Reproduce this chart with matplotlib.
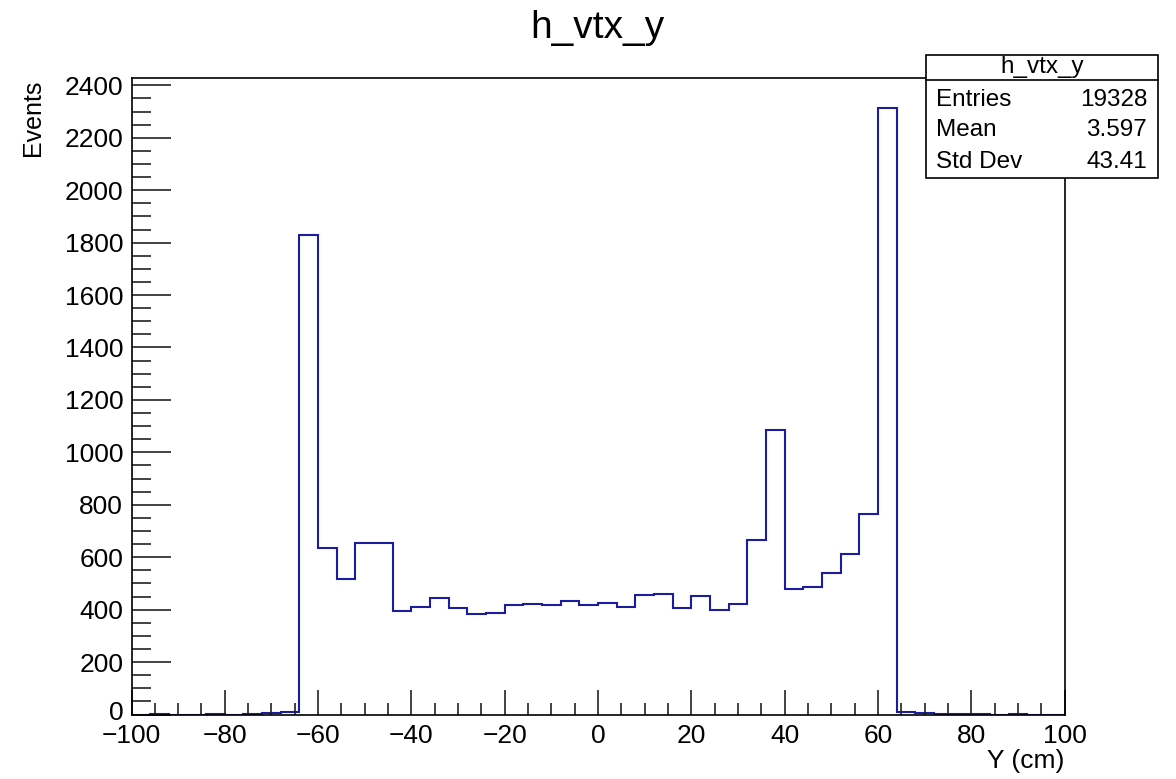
import numpy as np
import matplotlib
matplotlib.use("Agg")
import matplotlib.pyplot as plt
from matplotlib.ticker import MultipleLocator
from matplotlib.patches import Rectangle
from matplotlib.lines import Line2D
import matplotlib.transforms as mtransforms

plt.rcParams['font.family'] = ['Liberation Sans', 'DejaVu Sans']

# ---- data ----
bin_low, bin_high, n_bins = -100, 100, 50
counts = [0, 1, 0, 0, 2, 0, 1, 7, 8,
          1831, 635, 517, 656, 656, 396, 411, 443, 406, 385, 389,
          418, 421, 419, 434, 418, 425, 411, 457, 461, 408, 452,
          399, 421, 667, 1087, 477, 487, 540, 614, 765, 2313,
          8, 4, 1, 2, 1, 0, 2, 0, 0]
title = "h_vtx_y"
xlabel = "Y (cm)"
ylabel = "Events"
stat_names = ["Entries", "Mean", "Std Dev"]
stat_values = ["19328", "3.597", "43.41"]

W, H = 1176, 779
fig = plt.figure(figsize=(W / 100, H / 100), dpi=100)
L, R, T, B = 131.5, 1064.5, 78, 714.5
ax = fig.add_axes([L / W, 1 - B / H, (R - L) / W, (B - T) / H])

edges = np.linspace(bin_low, bin_high, n_bins + 1)
ax.stairs(counts, edges, color='#1c1ca0', linewidth=1.5)

ax.set_xlim(-100, 100)
ax.set_ylim(0, 2428)
ax.xaxis.set_major_locator(MultipleLocator(20))
ax.xaxis.set_minor_locator(MultipleLocator(5))
ax.yaxis.set_major_locator(MultipleLocator(200))
ax.yaxis.set_minor_locator(MultipleLocator(50))
ax.tick_params(axis='both', which='both', direction='in', top=False, right=False,
               labelsize=19, width=1.2, color='#222222')
ax.tick_params(axis='x', which='major', length=18, pad=7)
ax.tick_params(axis='x', which='minor', length=9)
ax.tick_params(axis='y', which='major', length=28, pad=6)
ax.tick_params(axis='y', which='minor', length=14)
for s in ax.spines.values():
    s.set_linewidth(1.2)
    s.set_color('black')

# lift the lowest y tick label a little so it clears the x labels
fig.canvas.draw()
ylabels = ax.get_yticklabels()
for lab in ylabels:
    if lab.get_text() == '0':
        lab.set_transform(lab.get_transform() +
                          mtransforms.ScaledTranslation(0, 4 / 100, fig.dpi_scale_trans))

fig.text(597 / W, 1 - 28 / H, title, ha='center', va='center', fontsize=28)
fig.text(1064 / W, 1 - 761 / H, xlabel, ha='right', va='center', fontsize=19)
fig.text(33 / W, 1 - 80 / H, ylabel, ha='center', va='top', rotation=90, fontsize=18)

# stats box
bx0, bx1, by0, by1 = 926, 1158, 55, 178
fig.patches.append(Rectangle((bx0 / W, 1 - by1 / H), (bx1 - bx0) / W, (by1 - by0) / H,
                             transform=fig.transFigure, facecolor='white',
                             edgecolor='black', linewidth=1.2, zorder=5))
fig.lines.append(Line2D([bx0 / W, bx1 / W], [1 - 80 / H, 1 - 80 / H],
                        transform=fig.transFigure, color='black', linewidth=1.2, zorder=6))
fig.text((bx0 + bx1) / 2 / W, 1 - 67 / H, title, ha='center', va='center',
         fontsize=17.5, zorder=7)
rows_y = [100, 130, 162]
for name, val, yy in zip(stat_names, stat_values, rows_y):
    fig.text(936 / W, 1 - yy / H, name, ha='left', va='center', fontsize=17.5, zorder=7)
    fig.text(1147 / W, 1 - yy / H, val, ha='right', va='center', fontsize=17.5, zorder=7)

fig.savefig("out.png", dpi=100)
